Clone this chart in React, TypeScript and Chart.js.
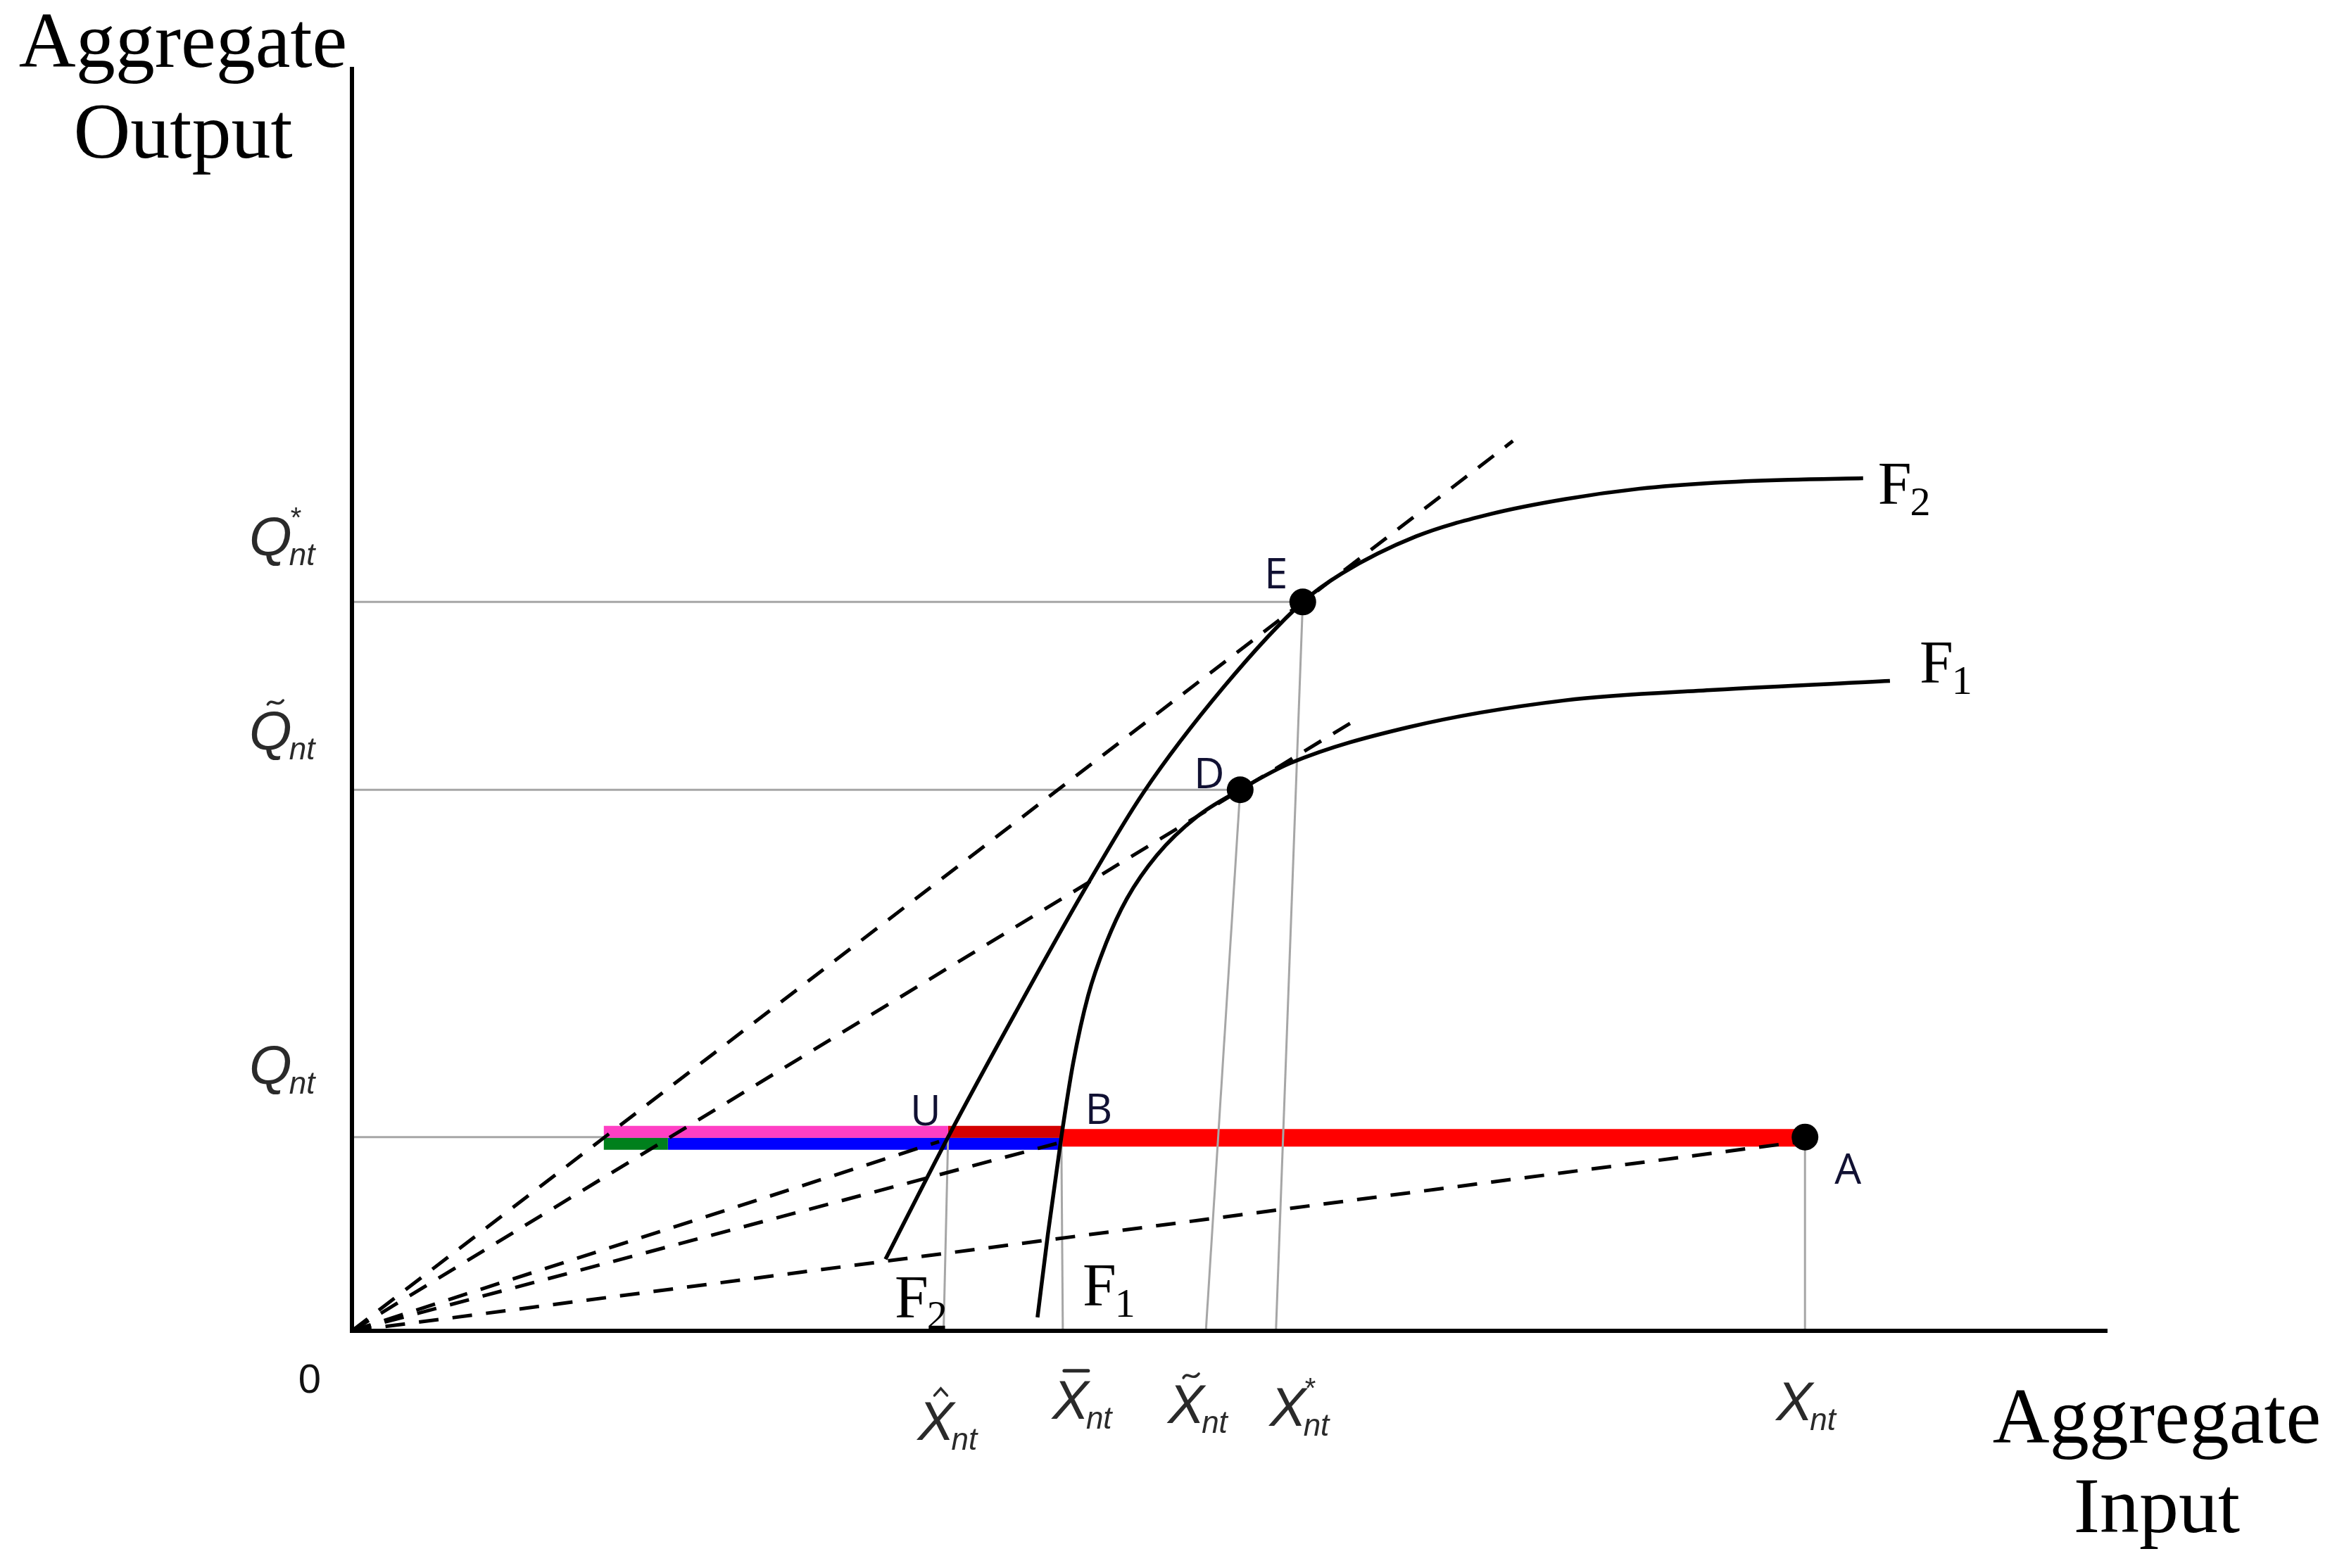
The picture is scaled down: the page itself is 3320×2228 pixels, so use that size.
import React, { useEffect, useRef } from "react";
import { Chart, registerables } from "chart.js";

Chart.register(...registerables);

// ---------------- data ----------------
const X_MAX = 117.8; // end of the aggregate-input axis
const Y_MAX = 84.8; // end of the aggregate-output axis

// output levels on the vertical axis: Q*_nt, Q~_nt, Q_nt
const outputLevels = [48.9, 36.3, 13.0];
const outputLabelAccent = ["", "tilde", ""];
const outputLabelSup = ["*", "", ""];
const outputGuideTo = ["E", "D", "A"];

// input levels on the horizontal axis: X^_nt, X-_nt, X~_nt, X*_nt, X_nt
const inputLevels = [39.7, 47.7, 57.3, 62.0, 97.5];
const inputLabelAccent = ["hat", "bar", "tilde", "", ""];
const inputLabelSup = ["", "", "", "*", ""];
const inputGuideTo = ["U", "B", "D", "E", "A"];

// named points
const pointNames = ["E", "D", "U", "B", "A"];
const pointX = [63.8, 59.6, 40.0, 47.6, 97.5];
const pointY = [48.9, 36.3, 13.0, 13.0, 13.0];
const markedPoints = ["E", "D", "A"];

// production function F2 (upper)
const f2X = [35.8, 40.0, 44.5, 49.1, 53.1, 58.5, 63.8, 66.4, 71.4, 76.4, 81.4, 86.4, 91.4, 96.4, 101.4];
const f2Y = [4.8, 13.0, 21.3, 29.5, 36.1, 43.2, 48.9, 50.8, 53.3, 54.8, 55.8, 56.5, 56.9, 57.1, 57.2];

// production function F1 (lower)
const f1X = [46.0, 46.7, 47.6, 48.4, 49.4, 50.6, 52.0, 54.0, 56.7, 59.6, 63.0, 70.9, 81.4, 91.4, 103.2];
const f1Y = [0.9, 6.5, 13.0, 18.0, 22.5, 26.0, 29.0, 31.9, 34.5, 36.3, 38.1, 40.5, 42.3, 43.0, 43.6];

// dashed rays from the origin (end points)
const rayEndX = [77.9, 67.7, 39.4, 47.4, 97.3];
const rayEndY = [59.7, 41.2, 12.7, 12.6, 12.7];

// coloured segments along Q_nt
const segNames = ["pink", "darkred", "green", "blue", "red"];
const segStart = [16.9, 40.0, 16.9, 21.2, 47.6];
const segEnd = [40.0, 47.6, 21.2, 47.6, 97.5];
const segLevel = [13.35, 13.35, 12.55, 12.55, 12.95];

// ---------------- styles ----------------
const segColor: Record<string, string> = {
  pink: "#ff3fc4",
  darkred: "#d40000",
  green: "#00801c",
  blue: "#0000ff",
  red: "#ff0000",
};
const segWidth: Record<string, number> = { pink: 17, darkred: 17, green: 17, blue: 17, red: 25 };

const SANS = '"Liberation Sans", Arial, sans-serif';
const SERIF = '"Liberation Serif", "Times New Roman", serif';
const LETTER = '"Open Sans", "Noto Sans", sans-serif';

// label placement (pixels)
const inputLabelDx = [-11, 11, -28, 17, -15];
const inputLabelDy = [155, 125, 131, 135, 127];
const outputLabelLeft = -146;
const outputLabelDy = [66, 57, 76];
const pointLabelOffset: Record<string, [number, number]> = {
  E: [-38, -36],
  D: [-44, -19],
  U: [-32, -34],
  B: [53, -36],
  A: [61, 49],
};

function idx(name: string) {
  return pointNames.indexOf(name);
}

function drawMath(
  ctx: CanvasRenderingContext2D,
  centerX: number,
  baseline: number,
  main: string,
  accent: string,
  sup: string,
  sub: string,
  color: string,
  leftAligned = false
) {
  const mainSize = 78;
  ctx.save();
  ctx.fillStyle = color;
  ctx.strokeStyle = color;
  ctx.textAlign = "left";
  ctx.textBaseline = "alphabetic";
  ctx.font = `italic ${mainSize}px ${SANS}`;
  const w = ctx.measureText(main).width;
  const left = leftAligned ? centerX : centerX - w / 2;
  ctx.fillText(main, left, baseline);
  const capH = mainSize * 0.72;
  const topY = baseline - capH;
  const cx = left + w / 2 + 7;
  ctx.lineWidth = 3.5;
  ctx.lineCap = "round";
  if (accent === "hat") {
    ctx.beginPath();
    ctx.moveTo(cx - 9, topY - 7);
    ctx.lineTo(cx, topY - 17);
    ctx.lineTo(cx + 9, topY - 7);
    ctx.stroke();
  } else if (accent === "bar") {
    ctx.lineWidth = 5;
    ctx.beginPath();
    ctx.moveTo(cx - 16, topY - 12);
    ctx.lineTo(cx + 18, topY - 12);
    ctx.stroke();
  } else if (accent === "tilde") {
    ctx.beginPath();
    ctx.moveTo(cx - 11, topY - 8);
    ctx.bezierCurveTo(cx - 5, topY - 19, cx + 2, topY - 2, cx + 11, topY - 14);
    ctx.stroke();
  }
  ctx.font = `italic 44px ${SANS}`;
  ctx.fillText(sub, left + w - 4, baseline + 14);
  if (sup) {
    ctx.font = `40px ${SANS}`;
    ctx.fillText(sup, left + w - 2, topY + 16);
  }
  ctx.restore();
}

function drawF(ctx: CanvasRenderingContext2D, left: number, baseline: number, sub: string) {
  ctx.save();
  ctx.fillStyle = "#000";
  ctx.textAlign = "left";
  ctx.textBaseline = "alphabetic";
  ctx.font = `86px ${SERIF}`;
  ctx.fillText("F", left, baseline);
  const w = ctx.measureText("F").width;
  ctx.font = `58px ${SERIF}`;
  ctx.fillText(sub, left + w - 2, baseline + 16);
  ctx.restore();
}

const labelPlugin = {
  id: "diagramLabels",
  afterDatasetsDraw(chart: any) {
    const ctx: CanvasRenderingContext2D = chart.ctx;
    const xs = chart.scales.x;
    const ys = chart.scales.y;
    const area = chart.chartArea;
    const px = (v: number) => xs.getPixelForValue(v);
    const py = (v: number) => ys.getPixelForValue(v);

    // axis titles
    ctx.save();
    ctx.fillStyle = "#000";
    ctx.textAlign = "center";
    ctx.textBaseline = "alphabetic";
    ctx.font = `112px ${SERIF}`;
    ctx.fillText("Aggregate", area.left - 240, area.top);
    ctx.fillText("Output", area.left - 240, area.top + 129);
    ctx.fillText("Aggregate", area.right + 70, area.bottom + 159);
    ctx.fillText("Input", area.right + 70, area.bottom + 286);
    // origin
    ctx.font = `58px ${SANS}`;
    ctx.textBaseline = "middle";
    ctx.fillStyle = "#111";
    ctx.fillText("0", px(0) - 60, py(0) + 72);
    ctx.restore();

    // output (vertical axis) labels
    outputLevels.forEach((v, i) => {
      drawMath(ctx, area.left + outputLabelLeft, py(v) - outputLabelDy[i], "Q", outputLabelAccent[i], outputLabelSup[i], "nt", "#2a2a2a", true);
    });
    // input (horizontal axis) labels
    inputLevels.forEach((v, i) => {
      drawMath(ctx, px(v) + inputLabelDx[i], py(0) + inputLabelDy[i], "X", inputLabelAccent[i], inputLabelSup[i], "nt", "#2a2a2a");
    });

    // point letters
    ctx.save();
    ctx.fillStyle = "#111133";
    ctx.font = `60px ${LETTER}`;
    ctx.textAlign = "center";
    ctx.textBaseline = "middle";
    pointNames.forEach((n, i) => {
      const [dx, dy] = pointLabelOffset[n];
      ctx.fillText(n, px(pointX[i]) + dx, py(pointY[i]) + dy);
    });
    ctx.restore();

    // curve labels
    const f2n = f2X.length - 1;
    const f1n = f1X.length - 1;
    drawF(ctx, px(f2X[f2n]) + 21, py(f2Y[f2n]) + 36, "2");
    drawF(ctx, px(f1X[f1n]) + 42, py(f1Y[f1n]) + 2, "1");
    drawF(ctx, px(f2X[0]) + 13, py(f2Y[0]) + 83, "2");
    drawF(ctx, px(f1X[0]) + 64, py(f1Y[0]) - 17, "1");
  },
};

function buildDatasets() {
  const ds: any[] = [];
  const line = (data: { x: number; y: number }[], extra: any) => ({
    data,
    showLine: true,
    pointRadius: 0,
    pointHoverRadius: 0,
    fill: false,
    clip: false,
    borderCapStyle: "butt",
    ...extra,
  });

  // axes
  ds.push(line([{ x: 0, y: Y_MAX }, { x: 0, y: 0 }, { x: X_MAX, y: 0 }], { borderColor: "#000", borderWidth: 6, order: 1, borderJoinStyle: "miter" }));

  // horizontal guides (beneath the coloured bars)
  outputLevels.forEach((v, i) => {
    const p = idx(outputGuideTo[i]);
    ds.push(line([{ x: 0, y: v }, { x: pointX[p], y: v }], { borderColor: "#a6a6a6", borderWidth: 3, order: 7 }));
  });

  // coloured segments along Q_nt
  segNames.forEach((n, i) => {
    ds.push(line([{ x: segStart[i], y: segLevel[i] }, { x: segEnd[i], y: segLevel[i] }], { borderColor: segColor[n], borderWidth: segWidth[n], order: n === "red" ? 6 : 5 }));
  });

  // vertical guides
  inputLevels.forEach((v, i) => {
    const p = idx(inputGuideTo[i]);
    ds.push(line([{ x: v, y: 0 }, { x: pointX[p], y: pointY[p] }], { borderColor: "#a6a6a6", borderWidth: 3, order: 4 }));
  });

  // dashed rays
  rayEndX.forEach((x, i) => {
    ds.push(line([{ x: 0, y: 0 }, { x, y: rayEndY[i] }], { borderColor: "#000", borderWidth: 5, borderDash: [28, 20], order: 3 }));
  });

  // production functions
  ds.push(line(f2X.map((x, i) => ({ x, y: f2Y[i] })), { borderColor: "#000", borderWidth: 5.5, cubicInterpolationMode: "monotone", order: 2 }));
  ds.push(line(f1X.map((x, i) => ({ x, y: f1Y[i] })), { borderColor: "#000", borderWidth: 5.5, cubicInterpolationMode: "monotone", order: 2 }));

  // marked points
  ds.push({
    data: markedPoints.map((n) => ({ x: pointX[idx(n)], y: pointY[idx(n)] })),
    showLine: false,
    pointRadius: 19,
    pointHoverRadius: 19,
    pointBackgroundColor: "#000",
    pointBorderColor: "#000",
    pointBorderWidth: 0,
    clip: false,
    order: 0,
  });
  return ds;
}

export default function App() {
  const ref = useRef<HTMLCanvasElement | null>(null);
  useEffect(() => {
    if (!ref.current) return;
    document.body.style.overflow = "hidden";
    const chart = new Chart(ref.current, {
      type: "scatter",
      data: { datasets: buildDatasets() },
      options: {
        animation: false,
        responsive: false,
        devicePixelRatio: 1,
        events: [],
        layout: { padding: { left: 500, right: 326, top: 95, bottom: 337 } },
        plugins: { legend: { display: false }, tooltip: { enabled: false }, title: { display: false } },
        scales: {
          x: { type: "linear", min: 0, max: X_MAX, display: false },
          y: { type: "linear", min: 0, max: Y_MAX, display: false },
        },
      } as any,
      plugins: [labelPlugin],
    });
    return () => chart.destroy();
  }, []);
  return (
    <div style={{ position: "absolute", left: 0, top: 0, width: 3320, height: 2228, background: "#fff" }}>
      <canvas ref={ref} width={3320} height={2228} style={{ display: "block", width: 3320, height: 2228 }} />
    </div>
  );
}
